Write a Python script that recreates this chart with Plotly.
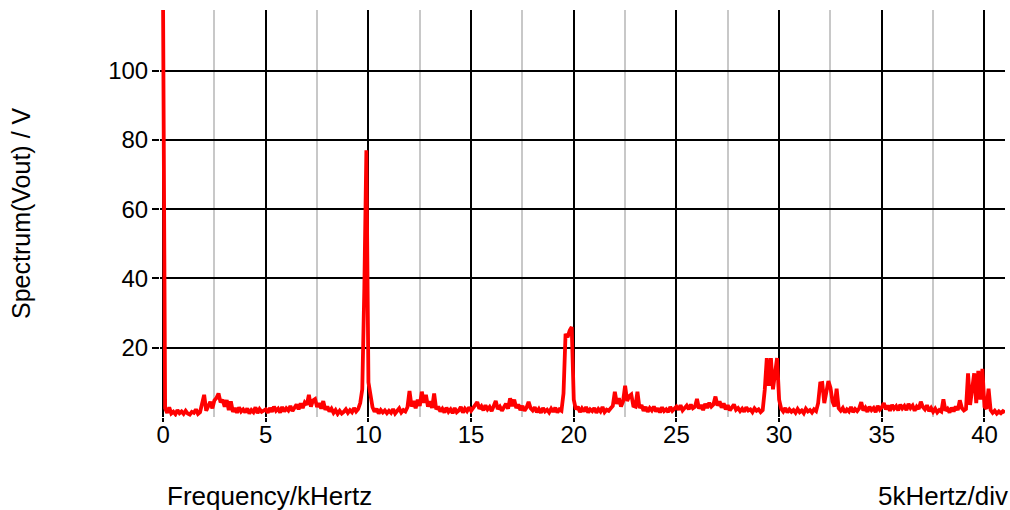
import plotly.graph_objects as go

# Frequency axis: samples every 0.1 kHz from 0 to 41 kHz
freq_step_khz = 0.1
n_samples = 411
freq_khz = [round(i * freq_step_khz, 1) for i in range(n_samples)]

# Spectrum magnitude (V), one row per kHz (k.0 ... k.9)
spectrum_v = [
    118, 2.5, 1.2, 2.8, 1.0, 1.5, 0.8, 2.0, 1.1, 1.6,      # 0
    0.9, 1.8, 1.0, 0.7, 1.5, 1.2, 2.2, 0.9, 1.4, 3.5,      # 1
    6.4, 1.8, 3.0, 4.4, 2.5, 4.8, 5.5, 6.8, 4.2, 5.0,      # 2
    3.0, 4.9, 2.0, 4.5, 1.5, 2.6, 1.2, 2.8, 1.6, 2.2,      # 3
    1.3, 2.5, 1.0, 2.0, 1.4, 2.8, 1.1, 2.3, 1.5, 1.9,      # 4
    2.2, 1.2, 2.6, 1.5, 3.0, 1.8, 2.4, 1.3, 2.9, 1.6,      # 5
    2.5, 1.9, 3.2, 1.7, 2.8, 3.6, 2.2, 3.9, 2.6, 4.2,      # 6
    3.5, 6.4, 3.0, 4.8, 5.2, 2.9, 4.0, 2.4, 4.6, 2.1,      # 7
    3.0, 1.6, 2.4, 1.2, 2.0, 0.9, 1.8, 1.0, 1.5, 2.2,      # 8
    1.2, 2.0, 1.4, 2.6, 1.6, 2.3, 4.0, 8.0, 37, 77,        # 9
    10, 5.5, 2.8, 1.5, 2.4, 1.0, 2.0, 1.3, 1.9, 1.1,       # 10
    1.8, 1.2, 2.3, 1.0, 1.7, 2.5, 1.3, 2.0, 1.6, 2.8,      # 11
    7.5, 3.0, 4.6, 2.5, 5.0, 3.2, 7.3, 4.1, 6.4, 3.0,      # 12
    4.5, 2.6, 6.8, 2.2, 3.0, 1.6, 2.4, 1.3, 2.7, 1.5,      # 13
    2.2, 1.1, 2.6, 1.4, 1.9, 2.9, 1.3, 2.4, 1.7, 2.8,      # 14
    1.8, 2.6, 3.2, 4.3, 2.4, 3.1, 1.9, 3.4, 2.2, 2.9,      # 15
    1.7, 3.3, 4.6, 2.3, 3.0, 1.8, 2.7, 3.8, 2.4, 5.4,      # 16
    3.1, 5.0, 2.6, 3.6, 2.0, 3.2, 1.8, 2.7, 4.4, 2.5,      # 17
    1.9, 2.8, 1.4, 2.3, 1.2, 2.6, 1.6, 2.1, 1.3, 2.4,      # 18
    1.5, 2.7, 1.3, 2.2, 1.8, 6.8, 24, 23, 25, 26,          # 19
    5.0, 2.2, 3.0, 1.4, 2.5, 1.6, 2.9, 1.3, 2.2, 1.7,      # 20
    2.6, 1.2, 2.3, 1.6, 2.9, 1.4, 2.1, 1.8, 2.5, 3.2,      # 21
    7.3, 3.8, 5.4, 3.0, 4.5, 9.0, 4.6, 6.0, 6.5, 3.2,      # 22
    3.0, 7.3, 2.6, 3.4, 1.8, 2.9, 1.5, 2.6, 1.9, 3.0,      # 23
    1.6, 2.5, 1.3, 2.8, 1.7, 2.2, 1.4, 2.9, 1.8, 2.4,      # 24
    3.0, 2.1, 3.4, 1.9, 2.8, 3.3, 2.2, 3.6, 2.5, 2.9,      # 25
    5.2, 2.4, 3.5, 2.0, 3.8, 2.6, 4.1, 3.0, 3.6, 5.9,      # 26
    3.3, 4.5, 2.7, 3.9, 2.2, 3.4, 1.9, 2.8, 3.6, 2.1,      # 27
    2.6, 1.7, 2.4, 1.5, 2.8, 1.9, 2.2, 1.4, 2.5, 1.8,      # 28
    2.2, 1.4, 2.0, 7.8, 17, 9.0, 17, 8.0, 12, 17,          # 29
    5.0, 2.4, 1.6, 2.6, 1.3, 2.2, 1.5, 2.0, 1.2, 2.3,      # 30
    1.4, 1.9, 1.1, 2.4, 1.6, 2.0, 1.3, 2.2, 1.7, 4.0,      # 31
    9.7, 9.8, 4.0, 7.5, 10.4, 8.5, 4.5, 3.0, 8.2, 2.5,     # 32
    1.8, 2.6, 1.3, 2.2, 1.6, 2.9, 1.4, 2.3, 1.7, 2.5,      # 33
    4.3, 1.9, 2.7, 1.5, 3.0, 2.0, 2.6, 1.4, 3.2, 2.1,      # 34
    2.8, 4.0, 2.2, 3.3, 1.8, 3.5, 2.4, 3.1, 1.9, 3.6,      # 35
    2.5, 3.2, 2.0, 3.8, 2.6, 3.3, 1.8, 3.0, 2.3, 4.4,      # 36
    2.9, 2.2, 3.4, 1.7, 2.6, 1.5, 2.4, 1.3, 2.0, 1.6,      # 37
    5.1, 1.8, 2.4, 1.3, 2.7, 1.6, 3.0, 2.0, 4.8, 2.6,      # 38
    1.9, 2.3, 12.6, 3.5, 8.0, 12.6, 4.0, 13.3, 5.0, 13.9,  # 39
    3.0, 2.4, 8.2, 2.0, 1.2, 1.8, 1.0, 1.6, 1.1, 1.7,      # 40
    1.3,                                                   # 41
]

x_tick_vals = [0, 5, 10, 15, 20, 25, 30, 35, 40]
x_tick_text = ["0", "5", "10", "15", "20", "25", "30", "35", "40"]
y_tick_vals = [20, 40, 60, 80, 100]
y_tick_text = ["20", "40", "60", "80", "100"]

FONT = "Liberation Sans, Arial, Helvetica, sans-serif"

fig = go.Figure()
fig.add_trace(go.Scatter(
    x=freq_khz, y=spectrum_v, mode="lines",
    line=dict(color="#ff0000", width=3.8),
    showlegend=False, hoverinfo="x+y",
))

L, R, T, B = 160, 5, 10, 93
PW = 1010 - L - R
fig.update_layout(
    width=1010, height=510,
    margin=dict(l=L, r=R, t=T, b=B, pad=0),
    paper_bgcolor="white", plot_bgcolor="white",
    font=dict(family=FONT, color="black", size=24),
    xaxis=dict(
        range=[-0.15, 41], tickmode="array", tickvals=x_tick_vals, ticktext=x_tick_text,
        showgrid=True, gridcolor="black", gridwidth=2,
        minor=dict(dtick=2.5, tick0=0, showgrid=True, gridcolor="#c8c8c8", gridwidth=2, ticks=""),
        ticks="outside", ticklen=4, tickwidth=2, tickcolor="black",
        ticklabelstandoff=-8,
        tickfont=dict(size=24, family=FONT), zeroline=False, showline=False,
    ),
    yaxis=dict(
        range=[0, 117.5], tickmode="array", tickvals=y_tick_vals, ticktext=y_tick_text,
        showgrid=True, gridcolor="black", gridwidth=2,
        ticks="outside", ticklen=7, tickwidth=2, tickcolor="black",
        ticklabelstandoff=-1,
        tickfont=dict(size=24, family=FONT), zeroline=False, showline=False,
    ),
    annotations=[
        dict(text="Frequency/kHertz", xref="paper", yref="paper", x=(165 - L) / PW, y=0,
             xanchor="left", yanchor="middle", yshift=-79, showarrow=False,
             font=dict(size=26, family=FONT, color="black")),
        dict(text="5kHertz/div", xref="paper", yref="paper", x=(876 - L) / PW, y=0,
             xanchor="left", yanchor="middle", yshift=-79, showarrow=False,
             font=dict(size=26, family=FONT, color="black")),
        dict(text="Spectrum(Vout) / V", xref="paper", yref="paper", x=0, y=(417 - 213) / 407,
             xanchor="center", yanchor="middle", xshift=21 - L, textangle=-90, showarrow=False,
             font=dict(size=25, family=FONT, color="black")),
    ],
)

fig.write_html("out.html")
